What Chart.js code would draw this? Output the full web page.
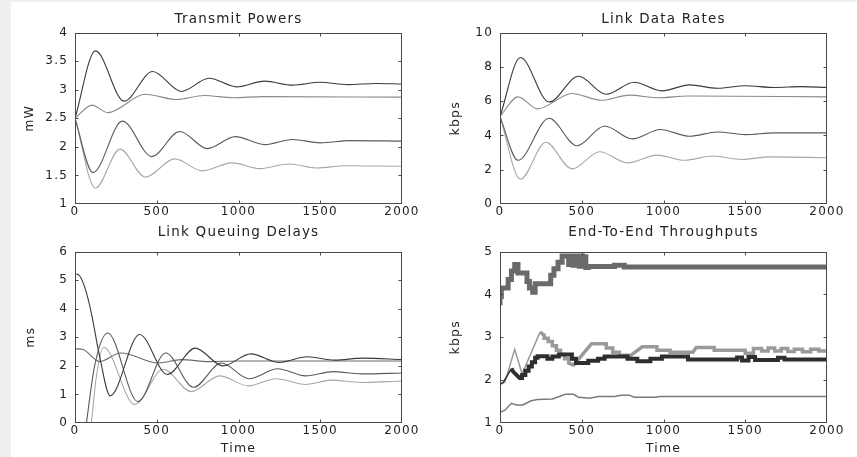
<!DOCTYPE html>
<html>
<head>
<meta charset="utf-8">
<script src="https://cdn.jsdelivr.net/npm/chart.js@4.4.1/dist/chart.umd.min.js"></script>
<style>
html,body{margin:0;padding:0;background:#eef0ee;width:857px;height:457px;overflow:hidden;}
#panel{position:absolute;left:11px;top:2px;width:846px;height:455px;background:#fff;}
canvas{position:absolute;}
</style>
</head>
<body>
<div id="panel"></div>
<canvas id="c1" width="419" height="220" style="left:11px;top:2px"></canvas>
<canvas id="c2" width="427" height="220" style="left:430px;top:2px"></canvas>
<canvas id="c3" width="419" height="235" style="left:11px;top:222px"></canvas>
<canvas id="c4" width="427" height="235" style="left:430px;top:222px"></canvas>
<script>
// ---------- Transmit Powers (mW) ----------
const timePowA = [0,125,300,475,650,820,990,1160,1330,1500,1670,1840,2000];
const powerA   = [2.5,3.68,2.8,3.32,2.97,3.2,3.05,3.15,3.08,3.13,3.09,3.11,3.1];
const timePowB = [0,105,200,430,620,790,970,1150,2000];
const powerB   = [2.5,2.73,2.6,2.92,2.83,2.9,2.86,2.88,2.87];
const timePowC = [0,110,290,470,640,810,980,1160,1330,1500,1680,2000];
const powerC   = [2.5,1.55,2.45,1.83,2.27,1.97,2.18,2.04,2.13,2.07,2.11,2.1];
const timePowD = [0,125,275,430,610,780,960,1130,1310,1480,1650,2000];
const powerD   = [2.5,1.28,1.96,1.47,1.79,1.58,1.72,1.62,1.70,1.63,1.67,1.66];

// ---------- Link Data Rates (kbps) ----------
const timeRateA = [0,125,300,480,650,820,990,1160,1330,1500,1680,1840,2000];
const rateA     = [5.1,8.55,5.95,7.45,6.4,7.1,6.6,6.95,6.75,6.9,6.8,6.85,6.8];
const timeRateB = [0,110,230,440,620,790,970,1150,2000];
const rateB     = [5.1,6.25,5.55,6.45,6.05,6.35,6.2,6.3,6.25];
const timeRateC = [0,110,300,470,640,810,980,1160,1330,1500,1680,2000];
const rateC     = [5.1,2.55,5.0,3.4,4.55,3.8,4.35,3.95,4.2,4.05,4.15,4.15];
const timeRateD = [0,125,280,440,610,780,960,1130,1300,1480,1650,2000];
const rateD     = [5.1,1.45,3.6,2.05,3.05,2.4,2.85,2.55,2.8,2.6,2.75,2.7];

// ---------- Link Queuing Delays (ms) ----------
const timeDelA = [0,20,60,100,150,215,395,565,735,905,1075,1250,1420,1590,1760,2000];
const delayA   = [5.22,5.2,4.75,3.85,2.35,0.95,3.1,1.7,2.62,2.0,2.42,2.12,2.32,2.2,2.27,2.22];
const timeDelB = [0,50,150,280,510,650,820,1000,2000];
const delayB   = [2.6,2.57,2.15,2.45,2.1,2.22,2.15,2.17,2.17];
const timeDelC = [0,40,70,120,200,385,555,725,895,1065,1240,1410,1580,1750,2000];
const delayC   = [-3,-1.3,0,2.0,3.15,0.75,2.45,1.25,2.1,1.55,1.9,1.65,1.8,1.72,1.75];
const timeDelD = [0,70,100,130,175,365,540,710,885,1060,1230,1410,1570,1750,2000];
const delayD   = [-3,-1,0,1.6,2.65,0.65,1.88,1.1,1.65,1.3,1.55,1.35,1.5,1.42,1.47];

// ---------- End-To-End Throughputs (kbps) ----------
const timeThrA = [0,8,50,70,90,110,165,180,200,215,310,330,355,380,420,435,445,455,465,475,485,495,505,515,525,540,700,760,840,1000,2000];
const thrA     = [3.75,3.95,4.15,4.35,4.55,4.7,4.5,4.3,4.15,4.05,4.25,4.45,4.6,4.75,4.9,4.7,4.9,4.68,4.9,4.7,4.9,4.66,4.9,4.7,4.88,4.63,4.65,4.68,4.64,4.64,4.64];
const timeThrB = [0,30,90,135,245,270,270,295,295,320,320,345,345,370,370,395,395,420,420,450,560,650,650,690,690,730,730,800,870,960,960,1040,1040,1180,1200,1310,1310,1350,1350,1500,1500,1550,1550,1600,1600,1640,1640,1680,1680,1720,1720,1760,1760,1800,1800,1850,1850,1900,1900,1950,1950,2000];
const thrB     = [1.9,1.95,2.72,2.15,3.12,3.05,2.98,2.98,2.9,2.9,2.8,2.8,2.7,2.7,2.6,2.6,2.5,2.5,2.4,2.35,2.85,2.85,2.75,2.75,2.65,2.65,2.58,2.58,2.78,2.78,2.7,2.7,2.65,2.65,2.76,2.76,2.7,2.7,2.7,2.7,2.63,2.63,2.74,2.74,2.68,2.68,2.75,2.75,2.68,2.68,2.74,2.74,2.67,2.67,2.72,2.72,2.66,2.66,2.72,2.72,2.68,2.68];
const timeThrC = [0,20,70,80,120,135,135,155,155,175,175,195,195,215,215,230,230,290,290,320,320,360,360,440,440,465,465,540,540,600,600,640,640,780,780,840,840,920,920,990,990,1150,1150,1450,1450,1480,1480,1520,1520,1560,1560,1700,1700,1740,1740,2000];
const thrC     = [1.9,1.95,2.27,2.2,2.05,2.05,2.12,2.12,2.22,2.22,2.32,2.32,2.42,2.42,2.52,2.52,2.56,2.56,2.5,2.5,2.55,2.55,2.6,2.6,2.5,2.5,2.4,2.4,2.45,2.45,2.5,2.5,2.55,2.55,2.5,2.5,2.44,2.44,2.5,2.5,2.55,2.55,2.48,2.48,2.53,2.53,2.46,2.46,2.54,2.54,2.47,2.47,2.52,2.52,2.48,2.48];
const timeThrD = [0,30,70,100,140,190,230,320,350,400,450,480,550,600,700,740,790,820,950,980,2000];
const thrD     = [1.25,1.3,1.46,1.42,1.42,1.52,1.55,1.56,1.6,1.67,1.67,1.6,1.58,1.62,1.62,1.65,1.65,1.6,1.6,1.62,1.62];

// tick settings
const timeTicks = [0,500,1000,1500,2000];

const FONT = "'DejaVu Sans', sans-serif";
const pts = (t, v) => t.map((x, i) => ({x, y: v[i]}));
const plain = v => String(v);

const spacingPlugin = {
  id: 'spacing',
  beforeUpdate(chart) { chart.ctx.letterSpacing = '1.2px'; },
  beforeDraw(chart) { chart.ctx.letterSpacing = '1.2px'; }
};

const framePlugin = {
  id: 'frame',
  afterDatasetsDraw(chart) {
    const {ctx, chartArea: a, scales: {x, y}} = chart;
    ctx.save();
    ctx.strokeStyle = '#4a4a4a';
    ctx.lineWidth = 1;
    const L = Math.round(a.left) + 0.5, R = Math.round(a.right) - 0.5;
    const T = Math.round(a.top) + 0.5, B = Math.round(a.bottom) - 0.5;
    ctx.strokeRect(L, T, R - L, B - T);
    ctx.beginPath();
    x.ticks.forEach(t => {
      const px = Math.round(x.getPixelForValue(t.value)) + 0.5;
      if (px <= L + 1 || px >= R - 1) return;
      ctx.moveTo(px, B); ctx.lineTo(px, B - 3);
      ctx.moveTo(px, T); ctx.lineTo(px, T + 3);
    });
    y.ticks.forEach(t => {
      const py = Math.round(y.getPixelForValue(t.value)) + 0.5;
      if (py <= T + 1 || py >= B - 1) return;
      ctx.moveTo(L, py); ctx.lineTo(L + 3, py);
      ctx.moveTo(R, py); ctx.lineTo(R - 3, py);
    });
    ctx.stroke();
    ctx.restore();
  }
};

function makeChart(id, o) {
  return new Chart(document.getElementById(id), {
    type: 'line',
    data: { datasets: o.datasets },
    plugins: [spacingPlugin, framePlugin],
    options: {
      responsive: false,
      animation: false,
      devicePixelRatio: 1,
      events: [],
      layout: { padding: { left: 0, right: o.padRight, top: 0, bottom: 0 } },
      elements: { point: { radius: 0 } },
      plugins: {
        legend: { display: false },
        tooltip: { enabled: false },
        title: {
          display: true, text: o.title, color: '#222', fullSize: false,
          font: { family: FONT, size: 13.5, weight: 'normal' },
          padding: o.titlePad
        }
      },
      scales: {
        x: {
          type: 'linear', min: 0, max: 2000,
          afterBuildTicks: s => { s.ticks = timeTicks.map(v => ({value: v})); },
          afterFit: s => { s.height = o.xHeight; },
          grid: { display: false, drawTicks: false },
          border: { display: false },
          ticks: { color: '#222', font: { family: FONT, size: 12 }, padding: 1, maxRotation: 0, autoSkip: false, callback: plain },
          title: o.xTitle ? { display: true, text: o.xTitle, color: '#222', font: { family: FONT, size: 12.5 }, padding: { top: 0, bottom: 1 } } : { display: false }
        },
        y: {
          type: 'linear', min: o.yMin, max: o.yMax,
          afterBuildTicks: s => { s.ticks = o.yTicks.map(v => ({value: v})); },
          afterFit: s => { s.width = o.yWidth; },
          grid: { display: false, drawTicks: false },
          border: { display: false },
          ticks: { color: '#222', font: { family: FONT, size: 12 }, padding: 7, autoSkip: false, callback: plain },
          title: { display: true, text: o.yTitle, color: '#222', font: { family: FONT, size: 12.5 }, padding: { top: o.yTitlePad, bottom: 0 } }
        }
      }
    }
  });
}

const smooth = (data, color) => ({ data, borderColor: color, borderWidth: 1.1, cubicInterpolationMode: 'monotone', fill: false, pointRadius: 0 });

makeChart('c1', {
  title: 'Transmit Powers', titlePad: { top: 9.7, bottom: 4.7 },
  yTitle: 'mW', yTitlePad: 11, yWidth: 64, padRight: 28, xHeight: 18,
  yMin: 1, yMax: 4, yTicks: [1,1.5,2,2.5,3,3.5,4],
  datasets: [
    smooth(pts(timePowA, powerA), '#3a3a3a'),
    smooth(pts(timePowB, powerB), '#8a8a8a'),
    smooth(pts(timePowC, powerC), '#5a5a5a'),
    smooth(pts(timePowD, powerD), '#a8a8a8')
  ]
});

makeChart('c2', {
  title: 'Link Data Rates', titlePad: { top: 9.7, bottom: 4.7 },
  yTitle: 'kbps', yTitlePad: 18, yWidth: 70, padRight: 30, xHeight: 18,
  yMin: 0, yMax: 10, yTicks: [0,2,4,6,8,10],
  datasets: [
    smooth(pts(timeRateA, rateA), '#3a3a3a'),
    smooth(pts(timeRateB, rateB), '#8a8a8a'),
    smooth(pts(timeRateC, rateC), '#5a5a5a'),
    smooth(pts(timeRateD, rateD), '#a8a8a8')
  ]
});

makeChart('c3', {
  title: 'Link Queuing Delays', titlePad: { top: 2.2, bottom: 11.2 },
  yTitle: 'ms', yTitlePad: 12, yWidth: 64, padRight: 28, xHeight: 34, xTitle: 'Time',
  yMin: 0, yMax: 6, yTicks: [0,1,2,3,4,5,6],
  datasets: [
    smooth(pts(timeDelA, delayA), '#3a3a3a'),
    smooth(pts(timeDelB, delayB), '#6a6a6a'),
    smooth(pts(timeDelC, delayC), '#5a5a5a'),
    smooth(pts(timeDelD, delayD), '#a8a8a8')
  ]
});

const thinUntil = (limit, thin, thick) => ({ borderWidth: c => (c.p0.parsed.x < limit ? thin : thick) });

makeChart('c4', {
  title: 'End-To-End Throughputs', titlePad: { top: 2.2, bottom: 11.2 },
  yTitle: 'kbps', yTitlePad: 18, yWidth: 70, padRight: 30, xHeight: 34, xTitle: 'Time',
  yMin: 1, yMax: 5, yTicks: [1,2,3,4,5],
  datasets: [
    { data: pts(timeThrA, thrA), borderColor: '#6a6a6a', borderWidth: 5, borderJoinStyle: 'miter', tension: 0, stepped: 'after', fill: false, pointRadius: 0 },
    { data: pts(timeThrC, thrC), borderColor: '#2e2e2e', borderWidth: 4, borderJoinStyle: 'miter', tension: 0, fill: false, pointRadius: 0, segment: thinUntil(70, 1.5, 4) },
    { data: pts(timeThrB, thrB), borderColor: '#9a9a9a', borderWidth: 3.5, borderJoinStyle: 'miter', tension: 0, fill: false, pointRadius: 0, segment: thinUntil(245, 1.5, 3.5) },
    { data: pts(timeThrD, thrD), borderColor: '#7a7a7a', borderWidth: 1.5, tension: 0, fill: false, pointRadius: 0 }
  ]
});
</script>
</body>
</html>
